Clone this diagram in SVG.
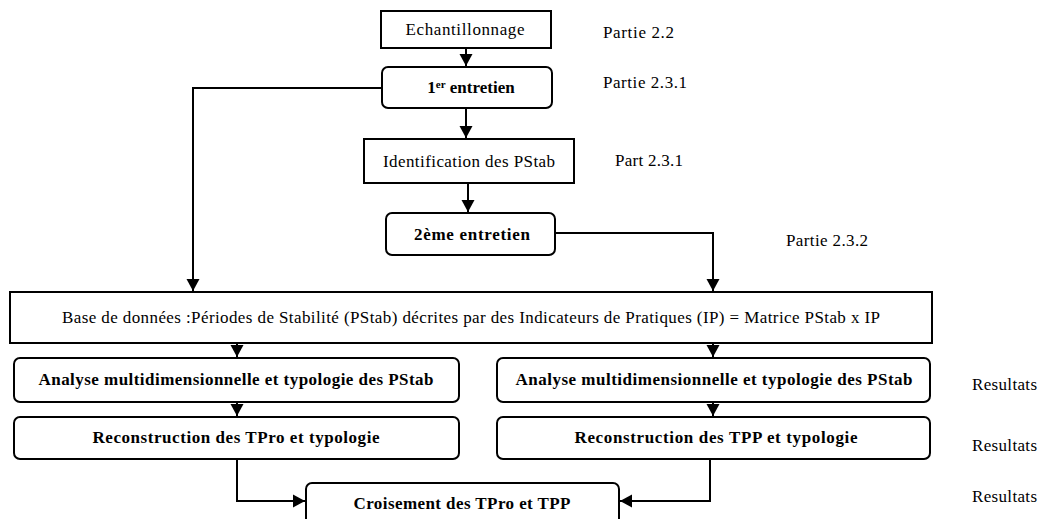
<svg xmlns="http://www.w3.org/2000/svg" width="1041" height="519" viewBox="0 0 1041 519">
<style>
.box{fill:#fff;stroke:#000;stroke-width:2}
.t{font-family:"Liberation Serif","DejaVu Serif",serif;font-size:17px;fill:#000}
.b{font-weight:bold;font-size:17px}
.c{text-anchor:middle}
.ln{fill:none;stroke:#000;stroke-width:2}
</style>
<defs>
<marker id="ah" markerUnits="userSpaceOnUse" markerWidth="16" markerHeight="16" viewBox="0 0 16 16" refX="13" refY="8" orient="auto">
<path d="M1,1.5 L13,8 L1,14.5 Z" fill="#000"/>
</marker>
</defs>
<rect width="1041" height="519" fill="#fff"/>
<g id="connectors">
<path class="ln" d="M466,48 V66" marker-end="url(#ah)"/>
<path class="ln" d="M466,108 V138" marker-end="url(#ah)"/>
<path class="ln" d="M468,183 V212" marker-end="url(#ah)"/>
<path class="ln" d="M382,88 H193 V291" marker-end="url(#ah)"/>
<path class="ln" d="M555,233 H713 V291" marker-end="url(#ah)"/>
<path class="ln" d="M237,343 V357" marker-end="url(#ah)"/>
<path class="ln" d="M713,343 V357" marker-end="url(#ah)"/>
<path class="ln" d="M237,402 V416" marker-end="url(#ah)"/>
<path class="ln" d="M713,402 V416" marker-end="url(#ah)"/>
<path class="ln" d="M237,459 V501 H305" marker-end="url(#ah)"/>
<path class="ln" d="M710,459 V501 H620" marker-end="url(#ah)"/>
</g>
<g id="echantillonnage">
<rect class="box" x="381" y="11" width="170" height="37"/>
<text class="t c" x="465" y="35" textLength="119">Echantillonnage</text>
</g>
<g id="entretien1">
<rect class="box" x="382" y="67" width="170" height="41" rx="6"/>
<text class="t b c" x="471" y="93">1<tspan font-size="11" dy="-5">er</tspan><tspan dy="5"> entretien</tspan></text>
</g>
<g id="identification">
<rect class="box" x="364" y="139" width="210" height="44"/>
<text class="t c" x="469" y="167" textLength="172">Identification des PStab</text>
</g>
<g id="entretien2">
<rect class="box" x="386" y="213" width="169" height="42" rx="6"/>
<text class="t b c" x="472" y="240" textLength="116">2ème entretien</text>
</g>
<g id="base">
<rect class="box" x="10" y="292" width="922" height="51"/>
<text class="t c" x="471" y="323" textLength="818">Base de données :Périodes de Stabilité (PStab) décrites par des Indicateurs de Pratiques (IP) = Matrice PStab x IP</text>
</g>
<g id="analyseL">
<rect class="box" x="14" y="358" width="445" height="44" rx="6"/>
<text class="t b c" x="236" y="385" textLength="395">Analyse multidimensionnelle et typologie des PStab</text>
</g>
<g id="reconstructionL">
<rect class="box" x="14" y="417" width="445" height="42" rx="6"/>
<text class="t b c" x="236" y="443" textLength="287">Reconstruction des TPro et typologie</text>
</g>
<g id="analyseR">
<rect class="box" x="497" y="358" width="433" height="44" rx="6"/>
<text class="t b c" x="714" y="385" textLength="397">Analyse multidimensionnelle et typologie des PStab</text>
</g>
<g id="reconstructionR">
<rect class="box" x="497" y="417" width="433" height="42" rx="6"/>
<text class="t b c" x="716" y="443" textLength="283">Reconstruction des TPP et typologie</text>
</g>
<g id="croisement">
<rect class="box" x="306" y="483" width="313" height="50" rx="6"/>
<text class="t b c" x="462" y="509" textLength="217">Croisement des TPro et TPP</text>
</g>
<g id="labels">
<text class="t" x="603" y="38" textLength="71">Partie 2.2</text>
<text class="t" x="603" y="88" textLength="84">Partie 2.3.1</text>
<text class="t" x="615" y="166" textLength="68">Part 2.3.1</text>
<text class="t" x="786" y="246" textLength="82">Partie 2.3.2</text>
<text class="t" x="972" y="390" textLength="65">Resultats</text>
<text class="t" x="972" y="451" textLength="65">Resultats</text>
<text class="t" x="972" y="502" textLength="65">Resultats</text>
</g>
</svg>
